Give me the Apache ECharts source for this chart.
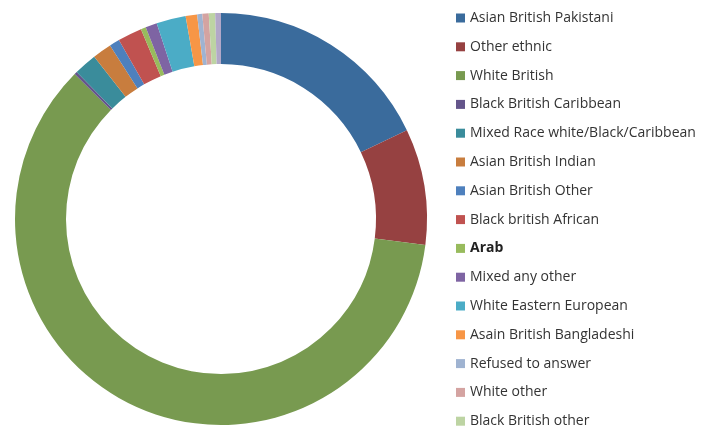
<!DOCTYPE html>
<html>
<head>
<meta charset="utf-8">
<script src="https://cdn.jsdelivr.net/npm/echarts@6/dist/echarts.min.js"></script>
<style>
  html, body { margin: 0; padding: 0; background: #fff; }
  #chart { width: 713px; height: 428px; }
</style>
</head>
<body>
<div id="chart"></div>
<script>
var groups = [
  'Asian British Pakistani', 'Other ethnic', 'White British', 'Black British Caribbean',
  'Mixed Race white/Black/Caribbean', 'Asian British Indian', 'Asian British Other',
  'Black british African', 'Arab', 'Mixed any other', 'White Eastern European',
  'Asain British Bangladeshi', 'Refused to answer', 'White other', 'Black British other',
  'Other'
];
// share of respondents, %
var shares = [17.9, 9.1, 60.4, 0.22, 1.8, 1.5, 0.8, 1.9, 0.4, 0.9, 2.3, 0.9, 0.4, 0.5, 0.5, 0.45];
var colors = [
  '#3a6b9c', '#964141', '#789a50', '#64558b', '#3a8c9b', '#c87d3e', '#4e80bd',
  '#c05250', '#98bb5d', '#7e64a3', '#4bacc6', '#f79646', '#9fb3d1', '#d4a3a1',
  '#bdd4a3', '#b2a8c8'
];

var chart = echarts.init(document.getElementById('chart'));

chart.setOption({
  animation: false,
  color: colors,
  legend: {
    type: 'plain',
    orient: 'vertical',
    left: 451,
    top: 6,
    height: 1000,
    itemWidth: 9,
    itemHeight: 9,
    itemGap: 14.8,
    itemTextGap: 5,
    icon: 'rect',
    textStyle: {fontFamily: 'Open Sans', fontSize: 14, color: '#333'},
    data: groups.map(function(g) {
      if (g === 'Arab') {
        return {name: g, textStyle: {fontWeight: 'bold', color: '#222'}};
      }
      return {name: g};
    }),
  },
  series: [
    {
      type: 'pie',
      center: [221, 219],
      radius: [155, 206],
      startAngle: 90,
      clockwise: true,
      label: {show: false},
      labelLine: {show: false},
      emphasis: {disabled: true},
      data: groups.map(function(g, i) {
        return {name: g, value: shares[i]};
      }),
    },
  ],
});
</script>
</body>
</html>
